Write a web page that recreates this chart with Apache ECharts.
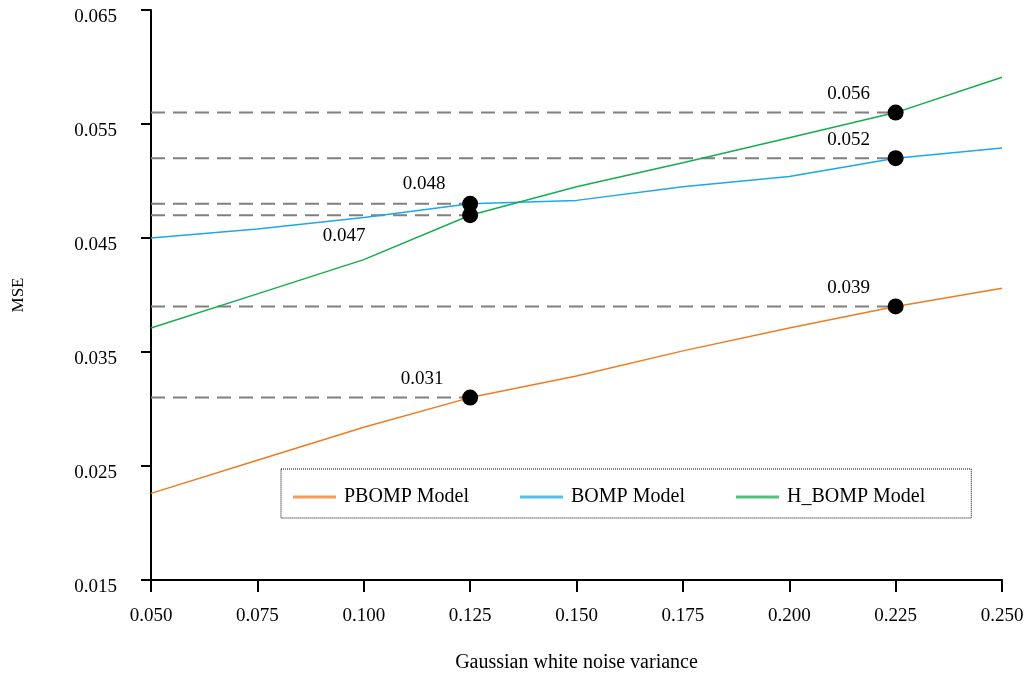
<!DOCTYPE html>
<html>
<head>
<meta charset="utf-8">
<script src="https://cdn.jsdelivr.net/npm/echarts@6/dist/echarts.min.js"></script>
<style>
  html, body { margin: 0; padding: 0; background: #fff; }
  #chart { width: 1032px; height: 678px; }
</style>
</head>
<body>
<div id="chart"></div>
<script>
// Noise variance levels on the x axis
const variance = [0.05, 0.075, 0.10, 0.125, 0.15, 0.175, 0.20, 0.225, 0.25];

// MSE of each model at those variances
const pbompMSE = [0.0226, 0.0255, 0.0284, 0.031, 0.0329, 0.0351, 0.0371, 0.039, 0.0406];
const bompMSE  = [0.0450, 0.0458, 0.0468, 0.048, 0.0483, 0.0495, 0.0504, 0.052, 0.0529];
const hbompMSE = [0.0371, 0.0401, 0.0431, 0.047, 0.0495, 0.0516, 0.0538, 0.056, 0.0591];

const seriesNames = ['PBOMP Model', 'BOMP Model', 'H_BOMP Model'];
const seriesColors = ['#F07C22', '#1CA8E6', '#15AD4E'];

// Highlighted readings: [variance, MSE]
const highlights = [
  [0.125, 0.048],
  [0.125, 0.047],
  [0.125, 0.031],
  [0.225, 0.056],
  [0.225, 0.052],
  [0.225, 0.039]
];
// Where each reading's label sits relative to its dot
const highlightLabelPlacement = [
  { position: 'top', offset: [-46, 3] },
  { position: 'bottom', offset: [-126, -2] },
  { position: 'top', offset: [-48, 4] },
  { position: 'top', offset: [-47, 4] },
  { position: 'top', offset: [-47, 4] },
  { position: 'top', offset: [-47, 4] }
];

const yTicks = { min: 0.015, max: 0.065, step: 0.01 };
const xTicks = { min: 0.05, max: 0.25, step: 0.025 };

const FONT = '"Liberation Serif", "Times New Roman", serif';

const pair = (xs, ys) => xs.map((x, i) => [x, ys[i]]);

const modelSeries = [pbompMSE, bompMSE, hbompMSE].map((vals, i) => ({
  name: seriesNames[i],
  type: 'line',
  data: pair(variance, vals),
  showSymbol: false,
  symbol: 'none',
  lineStyle: { width: 1.5, color: seriesColors[i] },
  itemStyle: { color: seriesColors[i] },
  z: 3,
  silent: true
}));

// Dashed guides from the y axis to each highlighted reading
const guideSeries = highlights.map(([x, y]) => ({
  type: 'line',
  data: [[xTicks.min, y], [x, y]],
  symbol: 'none',
  lineStyle: { color: '#808080', width: 2, type: [14, 8] },
  z: 2,
  silent: true
}));

const dotSeries = {
  type: 'scatter',
  symbol: 'circle',
  symbolSize: 16,
  itemStyle: { color: '#000', opacity: 1 },
  z: 5,
  silent: true,
  data: highlights.map(([x, y], i) => ({
    value: [x, y],
    label: {
      show: true,
      position: highlightLabelPlacement[i].position,
      offset: highlightLabelPlacement[i].offset,
      formatter: y.toFixed(3),
      color: '#000',
      fontFamily: FONT,
      fontSize: 19
    }
  }))
};

const chart = echarts.init(document.getElementById('chart'));
chart.setOption({
  animation: false,
  backgroundColor: '#fff',
  grid: { left: 151, right: 30, top: 10, bottom: 98 },
  legend: {
    data: seriesNames,
    left: 281,
    top: 469,
    orient: 'horizontal',
    icon: 'rect',
    itemWidth: 43,
    itemHeight: 3,
    itemGap: 51,
    padding: [18, 46, 11, 12],
    borderColor: '#000',
    borderWidth: 1,
    borderType: 'dotted',
    itemStyle: { opacity: 0.75 },
    textStyle: {
      fontFamily: FONT,
      fontSize: 20,
      color: '#000',
      padding: [0, 0, 0, 3]
    }
  },
  xAxis: {
    type: 'value',
    min: xTicks.min,
    max: xTicks.max,
    interval: xTicks.step,
    name: 'Gaussian white noise variance',
    nameLocation: 'middle',
    nameGap: 73,
    nameTextStyle: { fontFamily: FONT, fontSize: 20, color: '#000' },
    axisLine: { lineStyle: { color: '#000', width: 2 } },
    axisTick: { show: true, length: 12, lineStyle: { color: '#000', width: 2 } },
    axisLabel: {
      margin: 27,
      fontFamily: FONT,
      fontSize: 19,
      color: '#000',
      formatter: v => v.toFixed(3)
    },
    splitLine: { show: false }
  },
  yAxis: {
    type: 'value',
    min: yTicks.min,
    max: yTicks.max,
    interval: yTicks.step,
    name: 'MSE',
    nameLocation: 'middle',
    nameGap: 124,
    nameTextStyle: { fontFamily: FONT, fontSize: 17, color: '#000' },
    axisLine: { show: true, lineStyle: { color: '#000', width: 2 } },
    axisTick: { show: true, length: 10, lineStyle: { color: '#000', width: 2 } },
    axisLabel: {
      margin: 34,
      verticalAlign: 'top',
      lineHeight: 14,
      fontFamily: FONT,
      fontSize: 19,
      color: '#000',
      formatter: v => v.toFixed(3)
    },
    splitLine: { show: false }
  },
  series: [...guideSeries, ...modelSeries, dotSeries]
});
</script>
</body>
</html>
